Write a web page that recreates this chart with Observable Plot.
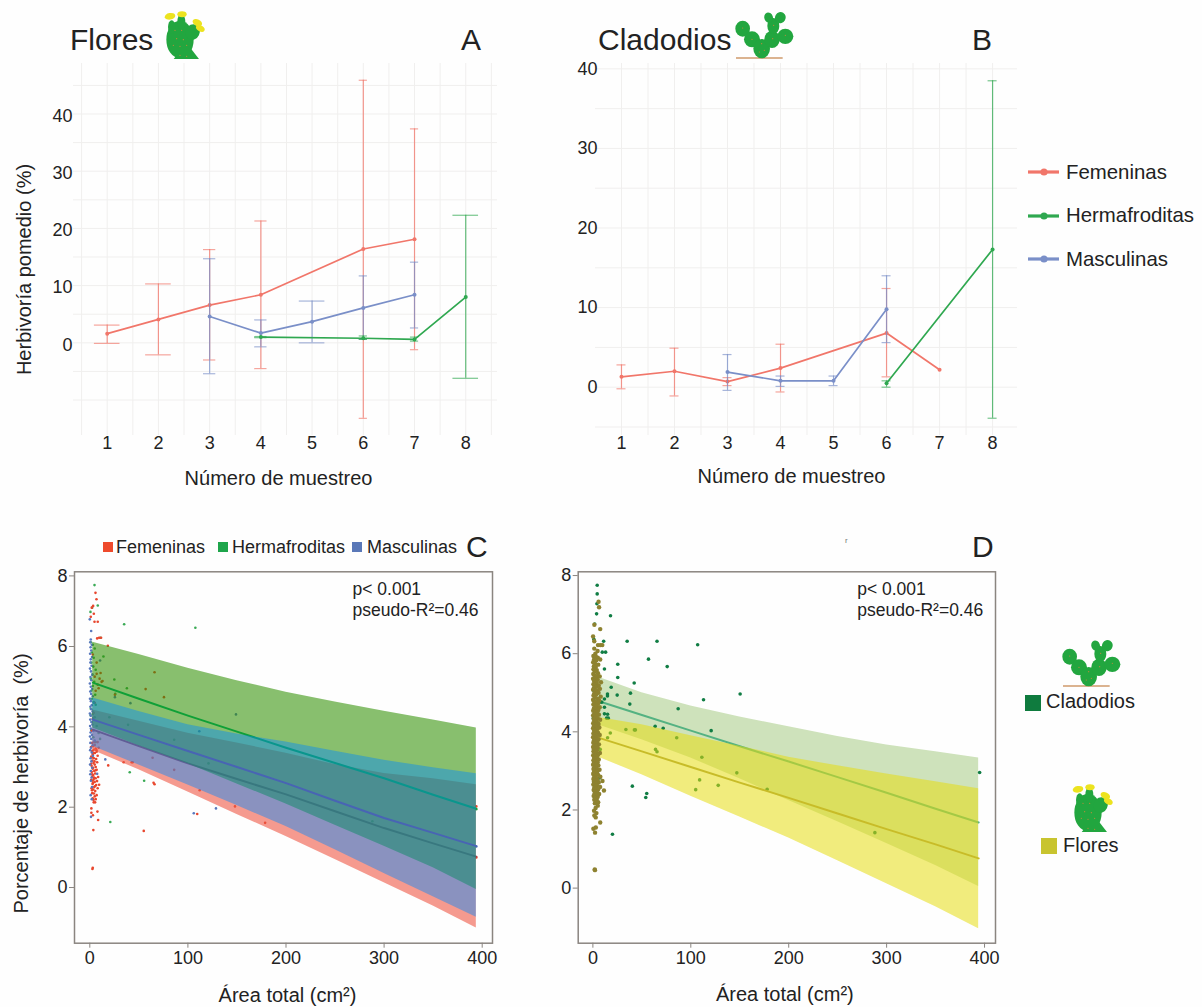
<!DOCTYPE html>
<html lang="es">
<head>
<meta charset="utf-8">
<style>
html,body{margin:0;padding:0;background:#fefefe;}
#root{position:relative;width:1202px;height:1007px;overflow:hidden;font-family:"Liberation Sans",Arial,sans-serif;}
#root>svg,#root>div{position:absolute;}
</style>
<script src="https://cdn.jsdelivr.net/npm/d3@7"></script>
<script src="https://cdn.jsdelivr.net/npm/@observablehq/plot@0.6"></script>
</head>
<body>
<div id="root"></div>
<script>
// ---------- Data: panels A and B (sample number, mean, upper, lower) ----------
const sampleTicks = [1,2,3,4,5,6,7,8];
const seriesNames = ["Femeninas","Hermafroditas","Masculinas"];
const organNames = ["Cladodios","Flores"];
const floresFem = [[1,1.6,3.1,-0.1],[2,4.1,10.3,-2.1],[3,6.6,16.3,-3.0],[4,8.4,21.3,-4.5],[6,16.4,45.9,-13.2],[7,18.1,37.4,-1.2]];
const floresHer = [[4,1.0,1.1,0.9],[6,0.8,1.2,0.6],[7,0.6,1.0,0.3],[8,8.0,22.3,-6.2]];
const floresMas = [[3,4.6,14.7,-5.4],[4,1.7,4.0,-0.7],[5,3.7,7.3,0.0],[6,6.1,11.7,0.6],[7,8.4,14.1,2.6]];
const cladFem = [[1,1.3,2.8,-0.2],[2,2.0,4.9,-1.1],[3,0.7,1.2,0.2],[4,2.4,5.4,-0.6],[6,6.8,12.4,1.3],[7,2.2,2.2,2.2]];
const cladHer = [[6,0.5,0.8,0.0],[8,17.3,38.5,-3.9]];
const cladMas = [[3,1.9,4.1,-0.4],[4,0.8,1.4,0.1],[5,0.8,1.4,0.2],[6,9.8,14.0,5.6]];

// ---------- Data: panel C (area, herbivory) ----------
const ribbonX = [3,50,100,150,200,250,300,350,394];
const femHi = [4.42,4.14,3.84,3.60,3.34,3.06,2.84,2.71,2.56];
const femLo = [3.42,2.93,2.38,1.82,1.27,0.70,0.12,-0.46,-1.01];
const femFit = [3.93,3.52,3.09,2.70,2.32,1.90,1.48,1.10,0.77];
const herHi = [6.12,5.80,5.46,5.15,4.86,4.62,4.39,4.17,3.97];
const herLo = [3.97,3.53,3.08,2.58,2.08,1.55,1.03,0.49,-0.05];
const herFit = [5.10,4.70,4.28,3.88,3.48,3.10,2.72,2.31,1.96];
const masHi = [4.72,4.38,4.05,3.82,3.62,3.39,3.17,2.98,2.83];
const masLo = [3.52,3.05,2.55,2.04,1.52,0.94,0.35,-0.23,-0.74];
const masFit = [4.18,3.80,3.40,3.00,2.60,2.16,1.73,1.36,1.03];

const ptsFem = [[5.8,7.52],[6.8,7.34],[3.4,7.15],[2,7.1],[4.1,6.93],[1,6.84],[4.8,6.7],[8.1,6.7],[7.5,6.23],[9.5,6.25],[11.5,6.25],[18.4,6.02],[66,5.36],[56.9,4.94],[75.6,4.74],[25.6,4.8],[34.5,3.12],[42.7,3.12],[43.7,3.12],[18.8,3.04],[64,3.23],[86,2.93],[65,2.61],[66,2.57],[112,2.42],[148,2.02],[178.7,1.61],[109.5,1.83],[55,1.41],[3.6,1.43],[3,0.49],[2.7,0.46],[394,2.02],[394,0.75],[8.5,1.68],[7.8,1.89],[1.6,1.97],[1.6,1.86],[3.2,1.8],[5.4,2.12],
[4,2.12],[6,2.2],[3,2.22],[5,2.27],[7,2.3],[2.5,2.35],[5.5,2.4],[3.5,2.44],[8,2.47],[1.8,2.47],[4.5,2.5],[6.5,2.55],[2.8,2.58],[9.5,2.56],[3.2,2.6],[5,2.63],[7.4,2.65],[1.5,2.68],[4,2.7],[6,2.72],[2.5,2.76],[8.5,2.75],[3.5,2.8],[5.5,2.84],[2,2.88],[4.5,2.9],[7,2.93],[3,2.96],[6,3],[1.8,3.03],[5,3.06],[3.8,3.1],[7.5,3.12],[2.6,3.16],[6.5,3.2],[4.2,3.22],[1.5,3.26],[8,3.28],[3,3.32],[5.2,3.35],[7,3.38],[2.2,3.4],[4,3.43],[6,3.46],[9,3.48],[1.2,3.5],[3.2,3.52],[5,3.55],[2.4,3.6],[4.6,3.62],[6.8,3.42],[3.6,3.36],[2.9,3.24],[4.8,3.14],[1.4,3.08],[3.4,2.98],[5.8,2.92],[2.4,2.82],[4.4,2.74],[3,2.66],[5.2,2.52],[2.2,2.42],[4.2,2.34],[3.8,2.18],[8,3.62],
[2,3.9],[3,4.2],[6,4.9],[8,5.05],[10,5.2],[5,5.25],[12,5.12],[9,4.96],[7,5.32],[13,5.14],[11,5.34],[7,5.6],[3,5.8],[5,4.6],[4,4.35]];
const ptsHer = [[4.8,7.74],[8.1,7.16],[0.7,6.98],[2.4,7.1],[35,6.63],[107.6,6.53],[10.9,6.25],[13.9,5.75],[25,5.18],[37.8,4.96],[26,4.82],[40.7,2.87],[55.4,2.66],[20.9,1.63],[394,1.95],[121,3.09],[86,3.68],[288,1.65],[39,4.05],[19.9,4.24],
[1,6.12],[3,6.05],[5,5.95],[2,5.85],[4,5.72],[1.5,5.6],[3.5,5.5],[6,5.42],[2.5,5.3],[1,5.2],[4.5,5.12],[3,5.02],[1.5,4.9],[5.5,4.8],[2,4.7],[4,4.62],[6,4.55],[1,4.45],[3,4.32],[5,4.24],[2,4.12],[7,4.02],[1.4,3.92],[9,3.85],[3.6,3.74],[10.5,3.7],[6,3.62],[1,4.28]];
const ptsMas = [[0,6.77],[1.4,6.44],[10.5,5.65],[25.6,4.74],[41.4,4.59],[149,4.31],[111.6,3.89],[106,1.85],[128.6,1.97],[15.8,3.19],[394,1.02],[1.2,1.76],[7.5,2.83],
[1,6.2],[0.5,6.12],[2,6.05],[0.8,5.98],[1.5,5.9],[0.3,5.82],[2.2,5.74],[1,5.68],[0.6,5.6],[1.8,5.52],[0.2,5.45],[1.2,5.38],[2.6,5.3],[0.7,5.24],[1.6,5.16],[0.1,5.08],[1,5],[2.4,4.94],[0.5,4.88],[1.4,4.82],[3,4.76],[0.2,4.7],[1.1,4.64],[4,4.6],[2,4.54],[0.6,4.5],[1.6,4.44],[2.8,4.38],[0.1,4.33],[1,4.28],[3.4,4.22],[0.5,4.18],[1.8,4.12],[2.6,4.06],[0.3,4.02],[1.2,3.96],[3.8,3.9],[0.8,3.86],[2.2,3.8],[0.2,3.76],[1.5,3.7],[5,3.66],[0.6,3.6],[2.8,3.54],[1.2,3.48],[0.4,3.42],[2,3.36],[3.2,3.28],[0.8,3.22],[1.6,3.14],[0.3,3.06],[2.4,2.98],[1,2.9],[0.5,2.82],[1.8,2.74],[1.1,2.66],[2.2,2.5],[0.9,2.3],[2,2.2]];

// ---------- Data: panel D (area, herbivory) ----------
const cladHiD = [5.42,5.00,4.66,4.38,4.13,3.88,3.66,3.49,3.33];
const cladLoD = [4.20,3.80,3.33,2.80,2.24,1.70,1.14,0.58,0.04];
const cladFitD = [4.81,4.43,4.03,3.63,3.24,2.84,2.44,2.03,1.68];
const florHiD = [4.38,4.18,3.90,3.63,3.35,3.13,2.92,2.72,2.54];
const florLoD = [3.38,2.90,2.35,1.82,1.28,0.70,0.11,-0.48,-1.04];
const florFitD = [3.87,3.50,3.10,2.70,2.31,1.91,1.51,1.12,0.76];

const ptsClad = [[4.4,7.75],[4.4,7.53],[4.1,7.28],[3.8,7.02],[18,6.97],[1.8,6.76],[1,6.37],[35,6.32],[65.5,6.32],[107,6.23],[11,6.32],[9.6,6.04],[13,6.04],[56.8,5.86],[75.9,5.67],[25.4,5.73],[11.8,5.61],[25.4,5.39],[42.2,5.25],[18.7,5.14],[150.4,4.97],[38.4,4.99],[24.8,4.94],[14.9,4.97],[14.9,4.92],[113,4.82],[37.7,4.71],[87.1,4.59],[11.8,4.84],[7,4.76],[9,4.76],[11.8,4.63],[11.8,4.46],[15,4.45],[14,4.35],[15.7,4.35],[63.6,4.14],[71.8,4.09],[120.8,4.03],[33.7,4.06],[42.4,4.05],[43.4,4.05],[85.6,3.85],[17.8,3.97],[15,3.85],[64,3.55],[65.5,3.49],[111.3,3.35],[147,2.95],[109,2.77],[105,2.52],[128,2.63],[178,2.53],[288,1.42],[40.3,2.61],[55,2.42],[54,2.32],[7,2.82],[7.5,3.55],[20,1.38],[395,2.96],[1,5.05],[0.5,4.35]];
const ptsFlor = [[5.8,7.33],[6.3,7.19],[1.5,6.74],[7.5,6.63],[0.2,6.44],[1.4,6.32],[5.2,6.22],[7.6,6.22],[9.6,6.22],[1.4,6.13],[4.8,6.07],[2.5,6.0],[0.5,5.94],[3,5.93],[5,5.9],[7.5,5.85],[1.2,5.85],[3.5,5.83],[0.3,5.78],[2.2,5.75],[5.5,5.72],[1,5.68],[3,5.66],[0.6,5.6],[4,5.58],[2,5.55],[5.2,5.5],[0.4,5.48],[1.6,5.45],[3.4,5.42],[7,5.42],[0.2,5.36],[2.6,5.35],[5,5.33],[1.2,5.3],[8.3,5.27],[4,5.25],[0.5,5.22],[2,5.2],[6,5.18],[3.2,5.15],[1,5.12],[7.2,5.1],[0.2,5.08],[4.6,5.06],[2.4,5.04],[5.8,5.0],[1.4,4.98],[3.4,4.96],[0.6,4.93],[8,4.9],[2.2,4.88],[4.8,4.85],[0.2,4.82],[6.4,4.8],[1.2,4.78],[3,4.76],[5.4,4.73],[0.5,4.7],[2,4.68],[4,4.66],[7,4.63],[1,4.6],[3,4.58],[5.6,4.56],[0.3,4.54],[2.4,4.51],[4.6,4.48],[1.4,4.46],[6.2,4.44],[0.2,4.42],[3.4,4.4],[2,4.37],[5,4.35],[0.8,4.33],[7.4,4.31],[3,4.29],[1.6,4.27],[4.2,4.24],[0.3,4.22],[5.8,4.2],[2.4,4.18],[1,4.15],[3.6,4.13],[6.6,4.11],[0.2,4.09],[4.6,4.07],[2,4.05],[1.2,4.03],[3,4.0],[5.2,3.98],[0.5,3.96],[2.6,3.94],[7,3.92],[4,3.9],[1.4,3.88],[0.2,3.86],[3.2,3.83],[5.8,3.81],[2,3.79],[1,3.77],[4.4,3.75],[0.4,3.72],[2.8,3.7],[6.2,3.68],[1.6,3.66],[3.6,3.64],[0.2,3.61],[5,3.59],[2.2,3.57],[1,3.55],[4,3.53],[0.6,3.5],[3,3.48],[7.2,3.46],[1.8,3.44],[5.4,3.42],[0.3,3.4],[2.6,3.38],[4.2,3.36],[1.2,3.33],[3.4,3.31],[6,3.29],[0.5,3.27],[2,3.25],[4.8,3.22],[1,3.2],[3,3.18],[0.2,3.16],[5.6,3.14],[2.4,3.12],[1.4,3.09],[3.8,3.07],[0.6,3.05],[6.8,3.03],[2,3.0],[4.4,2.98],[1,2.96],[3,2.94],[0.3,2.92],[5.2,2.9],[2.2,2.87],[7.6,2.85],[1.2,2.83],[3.6,2.81],[0.5,2.79],[4.8,2.76],[2,2.74],[9.8,2.74],[1,2.72],[6,2.7],[3,2.67],[0.4,2.65],[4.2,2.63],[2.4,2.61],[7.4,2.59],[1.4,2.57],[3.4,2.55],[5.4,2.53],[0.8,2.51],[11.3,2.5],[2.8,2.48],[4.4,2.46],[1.8,2.43],[6.4,2.41],[3.2,2.38],[0.8,2.36],[5,2.34],[2.2,2.31],[4,2.28],[1.4,2.26],[3,2.23],[5.4,2.2],[2,2.17],[5,2.11],[2.8,2.05],[1.2,1.98],[3.6,1.92],[1.5,1.86],[2.9,1.81],[7.5,1.68],[0.5,1.52],[3,1.55],[2.2,1.42],[1.9,0.48],[2.1,0.46]];

// ---------- Style ----------
const cRed = "rgb(241,118,106)", cGreen = "rgb(47,168,80)", cBlue = "rgb(122,143,200)";
const ink = "#222", axisGrey = "#8a8580", gridGrey = "#f0efee";
const fontFam = '"Liberation Sans",Arial,sans-serif';
const root = document.getElementById("root");
const row = a => ({x:a[0], m:a[1], hi:a[2], lo:a[3]});
const rib = (lo,hi,fit) => ribbonX.map((x,i)=>({x,lo:lo[i],hi:hi[i],fit:fit[i]}));
const pts = a => a.map(([x,y])=>({x,y}));
const pgrid = d3.range(0.5,8.51,0.5);

function series(arr,color,cap){
  const d = arr.map(row), e = d.filter(r=>r.hi!==r.lo);
  return [
    Plot.ruleX(e,{x:"x",y1:"lo",y2:"hi",stroke:color,strokeWidth:1.2,strokeOpacity:.75}),
    Plot.ruleY(e,{y:"hi",x1:r=>r.x-cap(r.x),x2:r=>r.x+cap(r.x),stroke:color,strokeWidth:1.2,strokeOpacity:.65}),
    Plot.ruleY(e,{y:"lo",x1:r=>r.x-cap(r.x),x2:r=>r.x+cap(r.x),stroke:color,strokeWidth:1.2,strokeOpacity:.65}),
    Plot.line(d,{x:"x",y:"m",stroke:color,strokeWidth:1.7}),
    Plot.dot(d,{x:"x",y:"m",r:2,fill:color})
  ];
}
const capA = x => [1,2,5,8].includes(x) ? .25 : ([3,4].includes(x) ? .12 : .08);
const capB = x => .085;

function place(svg,left,top){svg.style.left=left+"px";svg.style.top=top+"px";svg.style.background="none";root.appendChild(svg);}

// Panel A
place(Plot.plot({
  width:520,height:500,marginLeft:73,marginRight:23,marginTop:63,marginBottom:65,
  style:{fontFamily:fontFam,color:ink,background:"none",overflow:"visible"},
  x:{domain:[.342,8.62]},y:{domain:[-16.2,48.83]},
  marks:[
    Plot.gridX({ticks:pgrid,stroke:gridGrey,strokeOpacity:1}),
    Plot.gridY({ticks:d3.range(-10,46,5),stroke:gridGrey,strokeOpacity:1}),
    Plot.axisX({ticks:sampleTicks,tickSize:0,tickPadding:1,fontSize:18,label:null,tickFormat:d=>d}),
    Plot.axisY({ticks:[0,10,20,30,40],tickSize:0,tickPadding:1,fontSize:18,label:null,dy:2}),
    ...series(floresFem,cRed,capA),...series(floresMas,cBlue,capA),...series(floresHer,cGreen,capA),
    Plot.text(["Número de muestreo"],{text:d=>d,frameAnchor:"bottom",textAnchor:"middle",lineAnchor:"middle",dx:-7,dy:43,fontSize:20}),
    Plot.text(["Herbivoría pomedio (%)"],{text:d=>d,frameAnchor:"left",textAnchor:"middle",lineAnchor:"middle",rotate:-90,dx:-49,dy:20,fontSize:20})
  ]
}),0,0);

// Panel B
place(Plot.plot({
  width:672,height:500,marginLeft:65,marginRight:185,marginTop:63,marginBottom:65,
  style:{fontFamily:fontFam,color:ink,background:"none",overflow:"visible"},
  x:{domain:[.51,8.47]},y:{domain:[-6.07,40.67]},
  marks:[
    Plot.gridX({ticks:d3.range(1,8.01,.5),stroke:gridGrey,strokeOpacity:1}),
    Plot.gridY({ticks:d3.range(-5,41,5),stroke:gridGrey,strokeOpacity:1}),
    Plot.axisX({ticks:sampleTicks,tickSize:0,tickPadding:1,fontSize:18,label:null,tickFormat:d=>d}),
    Plot.axisY({ticks:[0,10,20,30,40],tickSize:0,tickPadding:-2,fontSize:18,label:null}),
    ...series(cladFem,cRed,capB),...series(cladMas,cBlue,capB),...series(cladHer,cGreen,capB),
    Plot.text(["Número de muestreo"],{text:d=>d,frameAnchor:"bottom",textAnchor:"middle",lineAnchor:"middle",dx:-15,dy:41,fontSize:20})
  ]
}),530,0);

// Panel C: the reference's axis is compressed between its 6 and 8 ticks
const compress = v => v > 6 ? 6 + (v - 6) * .879 : v;
const redRib = rib(femLo,femHi,femFit), greenRib = rib(herLo,herHi,herFit), blueRib = rib(masLo,masHi,masFit);
place(Plot.plot({
  width:520,height:477,marginLeft:74,marginRight:28,marginTop:41.3,marginBottom:64.3,
  style:{fontFamily:fontFam,color:ink,background:"none",overflow:"visible"},
  x:{domain:[-15.6,410.5]},
  y:{domain:[-1.386,7.86],transform:compress},
  marks:[
    Plot.dot(pts(ptsHer),{x:"x",y:"y",r:1.3,fill:"rgb(58,170,85)"}),
    Plot.dot(pts(ptsFem),{x:"x",y:"y",r:1.3,fill:"rgb(232,70,45)"}),
    Plot.dot(pts(ptsMas),{x:"x",y:"y",r:1.3,fill:"rgb(88,120,190)"}),
    Plot.areaY(redRib,{x:"x",y1:"lo",y2:"hi",fill:"rgb(238,87,68)",fillOpacity:.6}),
    Plot.line(redRib,{x:"x",y:"fit",stroke:"rgb(170,60,70)",strokeWidth:2}),
    Plot.areaY(greenRib,{x:"x",y1:"lo",y2:"hi",fill:"rgb(46,142,0)",fillOpacity:.57}),
    Plot.line(greenRib,{x:"x",y:"fit",stroke:"rgb(15,160,55)",strokeWidth:2}),
    Plot.areaY(blueRib,{x:"x",y1:"lo",y2:"hi",fill:"rgb(2,136,252)",fillOpacity:.44}),
    Plot.line(blueRib,{x:"x",y:"fit",stroke:"rgb(72,100,180)",strokeWidth:2}),
    Plot.frame({stroke:axisGrey,strokeWidth:1.5}),
    Plot.axisX({ticks:[0,100,200,300,400],tickSize:5,tickPadding:3,fontSize:18,label:null,stroke:axisGrey,fill:ink}),
    Plot.axisY({ticks:[0,2,4,6,compress(8)],tickFormat:d=>Math.ceil(d),tickSize:5,tickPadding:2,fontSize:18,label:null,stroke:axisGrey,fill:ink}),
    Plot.text(["p< 0.001"],{text:d=>d,frameAnchor:"top-left",textAnchor:"start",lineAnchor:"middle",dx:278,dy:18,fontSize:17.5}),
    Plot.text(["pseudo-R²=0.46"],{text:d=>d,frameAnchor:"top-left",textAnchor:"start",lineAnchor:"middle",dx:278,dy:39,fontSize:17.5}),
    Plot.text(["Área total (cm²)"],{text:d=>d,frameAnchor:"bottom",textAnchor:"middle",lineAnchor:"middle",dx:4,dy:52,fontSize:20}),
    Plot.text(["Porcentaje de herbivoría  (%)"],{text:d=>d,frameAnchor:"left",textAnchor:"middle",lineAnchor:"middle",rotate:-90,dx:-53,dy:26,fontSize:20,style:{whiteSpace:"pre"}})
  ]
}),0,530);

// Panel D
const cladRib = ribbonX.map((x,i)=>({x,lo:cladLoD[i],hi:cladHiD[i],fit:cladFitD[i]}));
const florRib = ribbonX.map((x,i)=>({x,lo:florLoD[i],hi:florHiD[i],fit:florFitD[i]}));
place(Plot.plot({
  width:672,height:477,marginLeft:47.7,marginRight:207,marginTop:41.3,marginBottom:64.3,
  style:{fontFamily:fontFam,color:ink,background:"none",overflow:"visible"},
  x:{domain:[-15,411.2]},y:{domain:[-1.41,8.096]},
  marks:[
    Plot.areaY(cladRib,{x:"x",y1:"lo",y2:"hi",fill:"rgb(206,226,187)"}),
    Plot.line(cladRib,{x:"x",y:"fit",stroke:"rgb(84,178,130)",strokeWidth:2}),
    Plot.dot(pts(ptsClad),{x:"x",y:"y",r:1.8,fill:"rgb(16,125,68)"}),
    Plot.areaY(florRib,{x:"x",y1:"lo",y2:"hi",fill:"rgb(229,220,18)",fillOpacity:.55}),
    Plot.line(florRib,{x:"x",y:"fit",stroke:"rgb(200,188,40)",strokeWidth:2}),
    Plot.dot(pts(ptsFlor),{x:"x",y:"y",r:2.2,fill:"rgb(142,130,48)"}),
    Plot.frame({stroke:axisGrey,strokeWidth:1.5}),
    Plot.axisX({ticks:[0,100,200,300,400],tickSize:5,tickPadding:3,fontSize:18,label:null,stroke:axisGrey,fill:ink}),
    Plot.axisY({ticks:[0,2,4,6,8],tickSize:5,tickPadding:2,fontSize:18,label:null,stroke:axisGrey,fill:ink}),
    Plot.text(["p< 0.001"],{text:d=>d,frameAnchor:"top-left",textAnchor:"start",lineAnchor:"middle",dx:279,dy:18,fontSize:17.5}),
    Plot.text(["pseudo-R²=0.46"],{text:d=>d,frameAnchor:"top-left",textAnchor:"start",lineAnchor:"middle",dx:279,dy:39,fontSize:17.5}),
    Plot.text(["Área total (cm²)"],{text:d=>d,frameAnchor:"bottom",textAnchor:"middle",lineAnchor:"middle",dx:-2,dy:51,fontSize:20})
  ]
}),530,530);

// ---------- Titles, legends and cactus icons ----------
const pad = (cx,cy,rx,ry,rot=0)=>`<ellipse cx="${cx}" cy="${cy}" rx="${rx}" ry="${ry}" transform="rotate(${rot} ${cx} ${cy})" fill="#22a63f"/>`;
const spk = (cx,cy)=>`<circle cx="${cx}" cy="${cy}" r="1.8" fill="#c08a3a"/>`;
const cladIcon = (tx,ty)=>`<g transform="translate(${tx},${ty}) scale(.3333) translate(-130,-30)">
<line x1="130" y1="168" x2="270" y2="168" stroke="#cf9a6b" stroke-width="4"/>
${pad(150,80,22,24)}${pad(178,112,24,24)}${pad(207,140,25,29)}${pad(238,112,23,26)}${pad(278,103,24,23)}${pad(242,72,18,24)}${pad(263,47,16,17,30)}${pad(228,47,13,16,-20)}
${spk(150,78)}${spk(178,112)}${spk(207,125)}${spk(200,150)}${spk(215,145)}${spk(240,110)}${spk(278,100)}${spk(243,70)}</g>`;
const florIcon = (tx,ty)=>`<g transform="translate(${tx},${ty}) scale(.3333) translate(-160,-465)">
<path d="M186 606 L216 570 L238 575 L262 606 Z" fill="#22a63f"/>
${pad(205,548,41,56)}${pad(180,510,11,20)}${pad(209,495,12,24)}${pad(243,525,21,24,25)}
<ellipse cx="175" cy="478" rx="16" ry="10" fill="#ece31f" transform="rotate(-10 175 478)"/><ellipse cx="211" cy="472" rx="14" ry="9" fill="#ece31f"/>
<ellipse cx="257" cy="497" rx="15" ry="10" fill="#ece31f" transform="rotate(25 257 497)"/><ellipse cx="266" cy="514" rx="14" ry="9" fill="#ece31f" transform="rotate(30 266 514)"/>
${spk(190,520)}${spk(210,520)}${spk(195,545)}${spk(215,548)}${spk(185,565)}${spk(205,568)}${spk(225,565)}${spk(205,595)}${spk(225,598)}</g>`;
const txt = (s,x,y,size,fill=ink)=>`<text x="${x}" y="${y}" font-size="${size}" fill="${fill}" dominant-baseline="middle" font-family='${fontFam}'>${s}</text>`;
const legLine = (y,c)=>`<line x1="1028" x2="1059" y1="${y}" y2="${y}" stroke="${c}" stroke-width="3.2"/><circle cx="1044" cy="${y}" r="3.6" fill="${c}"/>`;
const sq = (x,y,s,c)=>`<rect x="${x}" y="${y}" width="${s}" height="${s}" fill="${c}"/>`;
const overlay = document.createElement("div");
overlay.style.cssText="left:0;top:0;width:1202px;height:1007px;pointer-events:none";
overlay.innerHTML=`<svg width="1202" height="1007" xmlns="http://www.w3.org/2000/svg">
${txt("Flores",70,42,30)}${txt("A",461,42,30)}${txt("Cladodios",598,42,30)}${txt("B",972,42,30)}
${txt("C",466,549,30)}${txt("D",972,549,30)}
${florIcon(165,12)}${cladIcon(736,12)}${cladIcon(1063,640)}${florIcon(1073,785)}
${legLine(172,"rgb(241,118,106)")}${legLine(216,"rgb(47,168,80)")}${legLine(259,"rgb(122,143,200)")}
${txt(seriesNames[0],1066,174,20.4)}${txt(seriesNames[1],1066,217,20.4)}${txt(seriesNames[2],1066,261,20.4)}
${sq(103,542,10,"#ee4a2c")}${txt(seriesNames[0],116,548,18)}
${sq(218,542,10,"#1ea54b")}${txt(seriesNames[1],232,548,18)}
${sq(352,542,10,"#5a78b8")}${txt(seriesNames[2],367,548,18)}
${txt("r",845,541,8,"#777")}
${sq(1025,695,16,"#0f7b3e")}${txt(organNames[0],1046,703,20)}
${sq(1041,838,16,"#c8c42f")}${txt(organNames[1],1063,847,20)}
</svg>`;
root.appendChild(overlay);
</script>
</body>
</html>
